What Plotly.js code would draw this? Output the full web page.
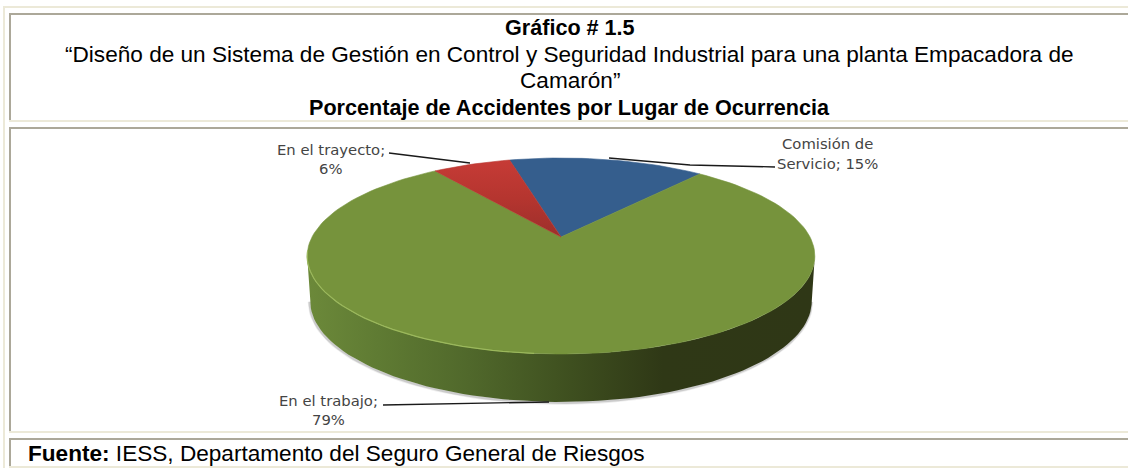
<!DOCTYPE html>
<html lang="es">
<head>
<meta charset="utf-8">
<title>Porcentaje de Accidentes por Lugar de Ocurrencia</title>
<script src="https://cdn.plot.ly/plotly-3.0.1.min.js"></script>
<style>html,body{margin:0;padding:0;background:#fff}#chart{width:1128px;height:468px}</style>
</head>
<body>
<div id="chart"></div>
<script>
// ---- data ----
const categories = ["Comisión de Servicio", "En el trabajo", "En el trayecto"];
const values = [15, 79, 6];
const sliceColors = ["#355e8d", "#76933c", "#b8352f"];
const titleLines = [
  "<b>Gráfico # 1.5</b>",
  "“Diseño de un Sistema de Gestión en Control y Seguridad Industrial para una planta Empacadora de",
  "Camarón”",
  "<b>Porcentaje de Accidentes por Lugar de Ocurrencia</b>"
];
const sourceText = "<b>Fuente:</b> IESS, Departamento del Seguro General de Riesgos";

// ---- pie projection (tilted disc seen in perspective) ----
const cx = 561, cy = 237, sx = 249, ty = 94.3, k = 0.194;
const startDeg = -14.2;
const rad = d => d * Math.PI / 180;
function project(deg) {
  const u = Math.sin(rad(deg)), v = Math.cos(rad(deg)), w = 1 + k * v;
  return [cx + sx * u / w, cy - ty * v / w];
}
function arc(from, to, map) {
  const pts = [], n = Math.max(2, Math.ceil(Math.abs(to - from) / 2));
  for (let i = 0; i <= n; i++) pts.push(map(from + (to - from) * i / n));
  return pts;
}
const extreme = 90 + Math.asin(k) * 180 / Math.PI;
const wallMap = deg => {
  const p = project(deg);
  return [561 + (p[0] - 561) * 0.988, 256 + (p[1] - 256) * 1.03 + 45];
};
const traces = [];

// soft shadow below the side wall
const wallLow = arc(extreme, 360 - extreme, wallMap);
[[4, 0.10], [2.4, 0.22]].forEach(([w, o]) => traces.push({
  type: "scatter", mode: "lines", x: wallLow.map(p => p[0] - 0.5), y: wallLow.map(p => p[1] + 0.8),
  line: {color: "#555555", width: w}, opacity: o, hoverinfo: "skip", showlegend: false
}));

// side wall of the green slice
const wallTop = arc(extreme, 360 - extreme, project);
const wallPoly = wallTop.concat(wallLow.slice().reverse());
traces.push({
  type: "scatter", mode: "lines", name: categories[1] + " (lateral)",
  x: wallPoly.map(p => p[0]), y: wallPoly.map(p => p[1]),
  fill: "toself", line: {width: 0, color: "rgba(0,0,0,0)"},
  fillgradient: {type: "horizontal", colorscale: [
    [0, "#6c893a"], [0.14, "#5f7b33"], [0.32, "#50682b"], [0.52, "#3e4f1f"], [0.7, "#2f3816"], [1, "#2f3716"]
  ]},
  hoverinfo: "skip", showlegend: false
});

// top face: slices computed from the values
let acc = startDeg;
const total = values.reduce((a, b) => a + b, 0);
values.forEach((val, i) => {
  const span = val / total * 360;
  const pts = [[cx, cy]].concat(arc(acc, acc + span, project));
  pts.push([cx, cy]);
  const t = {
    type: "scatter", mode: "lines", name: categories[i],
    x: pts.map(p => p[0]), y: pts.map(p => p[1]),
    fill: "toself", fillcolor: sliceColors[i], line: {width: 0.6, color: sliceColors[i]},
    text: categories[i] + ": " + val + "%", hoverinfo: "text", showlegend: false
  };
  if (i === 2) {
    t.fillgradient = {type: "vertical", colorscale: [[0, "#9c2f2b"], [0.5, "#b5352f"], [1, "#c63b36"]]};
    delete t.fillcolor;
  }
  traces.push(t);
  acc += span;
});

// light rim on the front-left edge
const rim = arc(185, 262, project);
traces.push({
  type: "scatter", mode: "lines", x: rim.map(p => p[0]), y: rim.map(p => p[1]),
  line: {color: "#9bb85c", width: 1.2}, hoverinfo: "skip", showlegend: false
});

// ---- frame, leaders, text ----
const beige = "#ece9d8", grey = "#aca899";
const rect = (x0, y0, x1, y1, c) => ({type: "rect", xref: "x", yref: "y", x0, y0, x1, y1,
  fillcolor: c, line: {width: 0}, layer: "above"});
const shapes = [
  rect(3, 6, 1128, 8, beige), rect(3, 6, 5, 468, beige),
  rect(9, 13, 1128, 15, grey), rect(9, 13, 11, 120, grey), rect(9, 120, 1128, 122, beige),
  rect(9, 127, 1128, 129, grey), rect(9, 127, 11, 431, grey), rect(9, 431, 1128, 433, beige),
  rect(9, 438, 1128, 440, grey), rect(9, 438, 11, 466, grey), rect(9, 466, 1128, 468, beige)
];
const leader = (pts) => ({type: "path", xref: "x", yref: "y", layer: "above",
  path: "M" + pts.map(p => p.join(",")).join("L"), line: {color: "#1a1a1a", width: 1.3}});
shapes.push(leader([[389, 153], [470, 163]]));
shapes.push(leader([[609, 158], [690, 165], [775, 167]]));
shapes.push(leader([[383, 405], [549, 402]]));

const arial = "Liberation Sans, Arial, sans-serif";
const labelFont = {family: "DejaVu Sans, sans-serif", size: 14.8, color: "#444444"};
const text = (x, y, t, font, anchor) => ({xref: "x", yref: "y", x, y, text: t, showarrow: false,
  xanchor: anchor || "center", yanchor: "middle", font, align: "center"});
const headFont = {family: arial, size: 21.6, color: "#000000"};
const bodyFont = {family: arial, size: 22.6, color: "#000000"};
const annotations = [
  text(569.5, 27, titleLines[0], headFont),
  text(569.5, 54, titleLines[1], bodyFont),
  text(569.5, 80, titleLines[2], bodyFont),
  text(569.5, 107, titleLines[3], headFont),
  text(26, 453, sourceText, bodyFont, "left"),
  text(330.5, 149, categories[2] + ";", labelFont),
  text(330.5, 168, values[2] + "%", labelFont),
  text(827, 143, "Comisión de", labelFont),
  text(827, 163, "Servicio; " + values[0] + "%", labelFont),
  text(328.5, 400, categories[1] + ";", labelFont),
  text(328.5, 419, values[1] + "%", labelFont)
];

Plotly.newPlot("chart", traces, {
  width: 1128, height: 468, margin: {l: 0, r: 0, t: 0, b: 0},
  paper_bgcolor: "#ffffff", plot_bgcolor: "#ffffff", showlegend: false,
  xaxis: {range: [0, 1128], visible: false, fixedrange: true},
  yaxis: {range: [468, 0], visible: false, fixedrange: true},
  shapes, annotations
}, {displayModeBar: false, responsive: false});
</script>
</body>
</html>
